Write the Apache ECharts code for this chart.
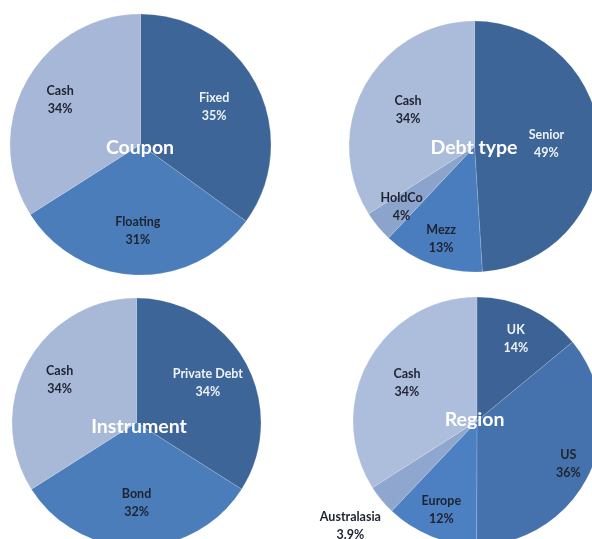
<!DOCTYPE html>
<html><head><meta charset="utf-8">
<script src="https://cdn.jsdelivr.net/npm/echarts@6/dist/echarts.min.js"></script>
<style>html,body{margin:0;padding:0;background:#fff}#c{width:592px;height:539px}</style>
</head><body><div id="c"></div>
<script>
// Data
var couponNames = ['Fixed', 'Floating', 'Cash'];
var couponValues = [35, 31, 34];
var debtNames = ['Senior', 'Mezz', 'HoldCo', 'Cash'];
var debtValues = [49, 13, 4, 34];
var instrumentNames = ['Private Debt', 'Bond', 'Cash'];
var instrumentValues = [34, 32, 34];
var regionNames = ['UK', 'US', 'Europe', 'Australasia', 'Cash'];
var regionValues = [14, 36, 12, 3.9, 34];
var regionLabels = ['14%', '36%', '12%', '3.9%', '34%'];
var titles = ['Coupon', 'Debt type', 'Instrument', 'Region'];

var FONT = 'Lato, "Open Sans", sans-serif';
var DARK = '#1e2330', LIGHT = '#eef2f9';

function fmtPct(v){ return (Math.round(v*10)/10) + '%'; }

var pies = [
  {names: couponNames, values: couponValues, center: [140.5, 144.5], r: 130.5,
   lab: [0.61, 0.64, 0.68], title: [140, 147.5],
   colors: ['#3E6598', '#4A7DBA', '#A6B7D7'], txt: [LIGHT, DARK, DARK]},
  {names: debtNames, values: debtValues, center: [474.5, 146.5], r: 125.5,
   lab: [0.55, 0.76, 0.73, 0.58], title: [474, 148],
   colors: ['#3E6598', '#4A7DBD', '#8CA3CB', '#ABBCDB'], txt: [LIGHT, DARK, DARK, DARK]},
  {names: instrumentNames, values: instrumentValues, center: [136.5, 422.5], r: 124.5,
   lab: [0.63, 0.62, 0.68], title: [139, 426.5],
   colors: ['#3E6598', '#4A7DBA', '#A8B9D8'], txt: [LIGHT, DARK, DARK]},
  {names: regionNames, values: regionValues, labels: regionLabels, center: [477, 421], r: 124,
   lab: [0.71, 0.79, 0.75, 1.3, 0.62], title: [474.5, 420],
   colors: ['#3D6396', '#4572AC', '#4C80C2', '#8FA6CF', '#ADBEDD'], txt: [LIGHT, DARK, DARK, DARK, DARK]}
];

var series = [];
var graphics = [];
pies.forEach(function(p, pi){
  var data = p.names.map(function(n, i){
    return {name: n, value: p.values[i], itemStyle: {color: p.colors[i]}};
  });
  series.push({
    type: 'pie', center: p.center, radius: p.r, startAngle: 90, clockwise: true,
    silent: true, animation: false, avoidLabelOverlap: false,
    label: {show: false}, labelLine: {show: false},
    itemStyle: {borderColor: 'rgba(255,255,255,0.25)', borderWidth: 0.6},
    data: data
  });
  // one transparent label ring per slice, so each label sits at lab[k] * r
  p.names.forEach(function(_, k){
    var f = p.lab[k];
    var w = Math.min(f, 0.3);
    var ldata = p.names.map(function(n, i){
      var pct = p.labels ? p.labels[i] : fmtPct(p.values[i]);
      return {name: n, value: p.values[i], itemStyle: {color: 'transparent'},
        label: {show: i === k, formatter: n + '\n' + pct, color: p.txt[i]}};
    });
    series.push({
      type: 'pie', center: p.center, radius: [(f - w) * p.r, (f + w) * p.r], startAngle: 90, clockwise: true,
      silent: true, animation: false, avoidLabelOverlap: false,
      label: {show: true, position: 'inside', fontFamily: FONT, fontWeight: 'bold', fontSize: 12.5, lineHeight: 18, align: 'center'},
      labelLine: {show: false},
      data: ldata
    });
  });
  graphics.push({
    type: 'text', x: p.title[0], y: p.title[1], z: 100,
    style: {text: titles[pi], fill: '#ffffff', font: 'bold 19.5px ' + FONT, align: 'center', verticalAlign: 'middle'}
  });
});

var chart = echarts.init(document.getElementById('c'), null, {renderer: 'canvas'});
chart.setOption({
  backgroundColor: '#ffffff',
  animation: false,
  series: series,
  graphic: graphics
});
</script>
</body></html>
